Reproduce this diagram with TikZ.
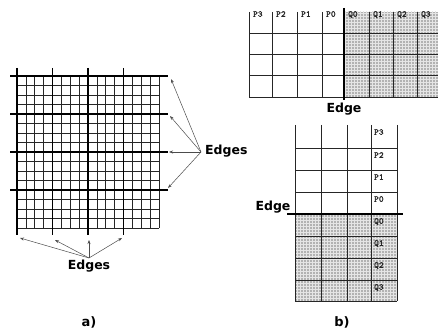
\documentclass[tikz,border=0pt]{standalone}
\usepackage{fontspec}
\setmainfont{DejaVu Sans}
\newfontfamily\cellfont[AutoFakeBold=1.6]{Latin Modern Mono}
\usetikzlibrary{arrows.meta,patterns}
\begin{document}
\begin{tikzpicture}[x=1pt,y=-1pt,
  gridln/.style={line width=0.6pt,black!85},
  thk/.style={line width=1.5pt,black},
  arr/.style={line width=0.5pt,gray!60!black,-{Stealth[length=4pt,width=3pt]}},
  lbl/.style={font=\fontsize{12.5}{14}\selectfont\bfseries,inner sep=0pt},
  cell/.style={font=\cellfont\bfseries\fontsize{9}{10}\selectfont,text=black!85,inner sep=0pt,anchor=north west},
  shadebox/.style={fill=gray!60},
  shadepat/.style={pattern=grid,pattern color=white!80!gray}]
\useasboundingbox (0,0) rectangle (438,331);
% ---------- a) ----------
\foreach \i in {0,...,16}
  \draw[gridln] ({17+\i*8.875},76) -- ({17+\i*8.875},228);
\foreach \j in {0,...,16}
  \draw[gridln] (17,{76+\j*9.5}) -- (159,{76+\j*9.5});
\foreach \i in {0,4,8,12}
  \draw[thk] ({17+\i*8.875},68) -- ({17+\i*8.875},235);
\foreach \j in {0,4,8,12}
  \draw[thk] (10,{76+\j*9.5}) -- (168,{76+\j*9.5});
\node[lbl,anchor=west] (edgesR) at (205,151) {Edges};
\coordinate (rs) at (201,152);
\coordinate (rt1) at (171,79);
\coordinate (rt2) at (170,116);
\coordinate (rt3) at (169,152);
\coordinate (rt4) at (168,188);
\foreach \t in {rt1,rt2,rt3,rt4} \draw[arr] (rs) -- (\t);
\node[lbl] (edgesB) at (89,266) {Edges};
\coordinate (bs) at (89,258);
\coordinate (bt1) at (20,238);
\coordinate (bt2) at (55,240);
\coordinate (bt3) at (89,240);
\coordinate (bt4) at (122,238);
\foreach \t in {bt1,bt2,bt3,bt4} \draw[arr] (bs) -- (\t);
\node[lbl,font=\fontsize{13}{15}\selectfont\bfseries] (la) at (89,322) {a)};
% ---------- b) top ----------
\fill[shadebox] (344,12) rectangle (438,97);
\fill[shadepat] (344,12) rectangle (438,97);
\foreach \x in {249,272,297,322,369,393,417}
  \draw[gridln] (\x,12) -- (\x,97);
\foreach \y in {33,54,75,97}
  \draw[gridln] (249,\y) -- (438,\y);
\draw[thk] (344,8) -- (344,100);
\foreach \x/\t in {249/P3,272/P2,297/P1,322/P0,344/Q0,369/Q1,393/Q2,417/Q3}
  \node[cell] (h\t) at (\x+4,11) {\t};
\node[lbl] (edgeT) at (344,109) {Edge};
% ---------- b) bottom ----------
\fill[shadebox] (295,214) rectangle (397,301);
\fill[shadepat] (295,214) rectangle (397,301);
\foreach \x in {295,321,347,371,397}
  \draw[gridln] (\x,125) -- (\x,301);
\foreach \y in {148,170,192,236,258,280,301}
  \draw[gridln] (295,\y) -- (397,\y);
\draw[thk] (287,214) -- (403,214);
\foreach \y/\t in {125/P3,148/P2,170/P1,192/P0,214/Q0,236/Q1,258/Q2,280/Q3}
  \node[cell] (v\t) at (374,\y+4) {\t};
\node[lbl] (edgeL) at (273,207) {Edge};
\node[lbl,font=\fontsize{13}{15}\selectfont\bfseries] (lb) at (342,322) {b)};
\end{tikzpicture}
\end{document}
